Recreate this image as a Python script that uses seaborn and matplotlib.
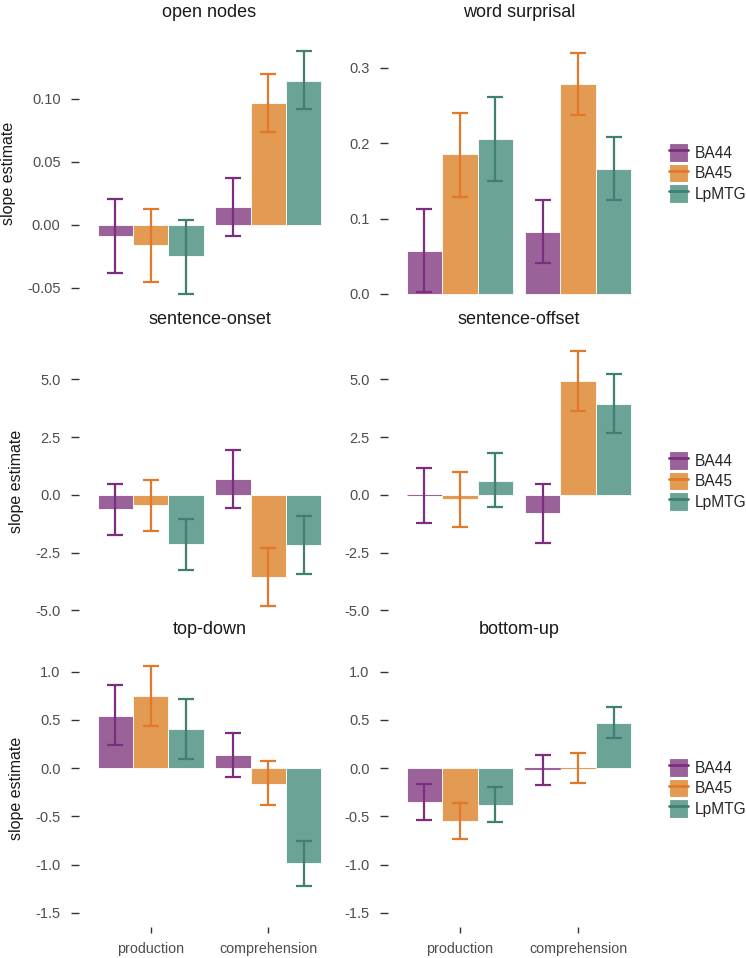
import numpy as np
import pandas as pd
import seaborn as sns
import matplotlib.pyplot as plt
from matplotlib.patches import Patch
from matplotlib.lines import Line2D
from matplotlib.ticker import FormatStrFormatter

# --- data ---
tasks = ["production", "comprehension"]
regions = ["BA44", "BA45", "LpMTG"]
panel_titles = ["open nodes", "word surprisal", "sentence-onset",
                "sentence-offset", "top-down", "bottom-up"]

# order: production BA44, BA45, LpMTG, comprehension BA44, BA45, LpMTG
open_nodes_est = [-0.009, -0.016, -0.025, 0.014, 0.097, 0.114]
open_nodes_lo = [-0.038, -0.045, -0.055, -0.009, 0.074, 0.092]
open_nodes_hi = [0.021, 0.013, 0.004, 0.037, 0.120, 0.138]

surprisal_est = [0.057, 0.185, 0.206, 0.082, 0.279, 0.166]
surprisal_lo = [0.002, 0.129, 0.150, 0.041, 0.237, 0.125]
surprisal_hi = [0.112, 0.240, 0.261, 0.124, 0.320, 0.208]

onset_est = [-0.62, -0.46, -2.12, 0.68, -3.54, -2.16]
onset_lo = [-1.76, -1.57, -3.24, -0.58, -4.82, -3.44]
onset_hi = [0.48, 0.65, -1.04, 1.96, -2.29, -0.90]

offset_est = [-0.01, -0.19, 0.62, -0.80, 4.91, 3.95]
offset_lo = [-1.20, -1.38, -0.54, -2.09, 3.63, 2.66]
offset_hi = [1.15, 0.97, 1.81, 0.49, 6.21, 5.25]

topdown_est = [0.545, 0.745, 0.403, 0.141, -0.159, -0.986]
topdown_lo = [0.238, 0.438, 0.100, -0.086, -0.386, -1.224]
topdown_hi = [0.862, 1.062, 0.714, 0.369, 0.076, -0.755]

bottomup_est = [-0.348, -0.545, -0.376, -0.010, 0.007, 0.472]
bottomup_lo = [-0.538, -0.731, -0.559, -0.172, -0.152, 0.317]
bottomup_hi = [-0.166, -0.359, -0.190, 0.138, 0.162, 0.631]

panel_data = [
    (open_nodes_est, open_nodes_lo, open_nodes_hi),
    (surprisal_est, surprisal_lo, surprisal_hi),
    (onset_est, onset_lo, onset_hi),
    (offset_est, offset_lo, offset_hi),
    (topdown_est, topdown_lo, topdown_hi),
    (bottomup_est, bottomup_lo, bottomup_hi),
]

# --- style ---
fill_colors = ["#9A6299", "#E39A52", "#6BA396"]
line_colors = ["#7B2D80", "#E2792A", "#3F8073"]

sns.set_style("white")
plt.rcParams["font.family"] = ["Liberation Sans", "DejaVu Sans"]
plt.rcParams["axes.unicode_minus"] = False

W, H = 746, 958
fig = plt.figure(figsize=(W / 100, H / 100), dpi=100)

# panel boxes in pixels
cols = [(80, 339), (389, 649)]
rows = [(40, 306), (339, 623), (653, 923)]
ylims = [(-0.0643, 0.1468), (-0.016, 0.3367), (-5.55, 6.75), (-5.55, 6.75),
         (-1.604, 1.194), (-1.604, 1.194)]
yticks = [[-0.05, 0.0, 0.05, 0.10], [0.0, 0.1, 0.2, 0.3],
          [-5.0, -2.5, 0.0, 2.5, 5.0], [-5.0, -2.5, 0.0, 2.5, 5.0],
          [-1.5, -1.0, -0.5, 0.0, 0.5, 1.0], [-1.5, -1.0, -0.5, 0.0, 0.5, 1.0]]
yfmt = ["%.2f", "%.1f", "%.1f", "%.1f", "%.1f", "%.1f"]
title_pads = [16.5, 10.8, 13.5]

for i, (title, (est, lo, hi)) in enumerate(zip(panel_titles, panel_data)):
    r, c = divmod(i, 2)
    x0, x1 = cols[c]
    y0, y1 = rows[r]
    ax = fig.add_axes([x0 / W, 1 - y1 / H, (x1 - x0) / W, (y1 - y0) / H])

    df = pd.DataFrame({
        "task": [t for t in tasks for _ in regions],
        "region": regions * len(tasks),
        "est": est, "lo": lo, "hi": hi,
    })
    sns.barplot(data=df, x="task", y="est", hue="region", order=tasks,
                hue_order=regions, palette=fill_colors, saturation=1,
                width=0.9, gap=0, errorbar=None, edgecolor="white",
                linewidth=0.6, legend=False, ax=ax)

    span = ylims[i][1] - ylims[i][0]
    for k, (reg, cont) in enumerate(zip(regions, ax.containers)):
        # near-zero bars show up as a thin coloured line
        for b in cont:
            if abs(b.get_height()) < 0.004 * span:
                b.set_edgecolor(fill_colors[k])
                b.set_linewidth(0.8)
        sub = df[df["region"] == reg].set_index("task").loc[tasks]
        xs = [b.get_x() + b.get_width() / 2 for b in cont]
        yerr = np.vstack([sub["est"] - sub["lo"], sub["hi"] - sub["est"]])
        ax.errorbar(xs, sub["est"], yerr=yerr, fmt="none",
                    ecolor=line_colors[k], elinewidth=1.6, capsize=5.8,
                    capthick=1.6, zorder=3)

    ax.set_xlim(-0.6, 1.6)
    ax.set_ylim(*ylims[i])
    ax.set_yticks(yticks[i])
    ax.yaxis.set_major_formatter(FormatStrFormatter(yfmt[i]))
    for s in ax.spines.values():
        s.set_visible(False)
    ax.spines["left"].set_position(("outward", 1))
    ax.spines["bottom"].set_position(("outward", 3))
    ax.tick_params(axis="y", left=True, length=6, width=1, color="#333333",
                   pad=7, labelsize=10.5, labelcolor="#4D4D4D")
    if r == 2:
        ax.tick_params(axis="x", bottom=True, length=4.5, width=1,
                       color="#333333", pad=6, labelsize=10.3,
                       labelcolor="#4D4D4D")
    else:
        ax.set_xticks([])
    ax.set_xlabel("")
    ax.set_ylabel("slope estimate" if c == 0 else "", fontsize=11.5,
                  color="#1A1A1A", labelpad=8)
    ax.set_title(title, fontsize=13, color="#1A1A1A", pad=title_pads[r])

    if c == 1:
        handles = [(Patch(facecolor=fill_colors[k], edgecolor="white",
                          linewidth=0.8),
                    Line2D([], [], color=line_colors[k], lw=2))
                   for k in range(len(regions))]
        ax.legend(handles, regions, loc="center left",
                  bbox_to_anchor=(1 + 20 / (x1 - x0), 0.5), frameon=False,
                  fontsize=11.2, handlelength=1.25, handleheight=1.5,
                  labelspacing=0.1, handletextpad=0.4, borderpad=0,
                  borderaxespad=0)

fig.savefig("out.png", dpi=100)
